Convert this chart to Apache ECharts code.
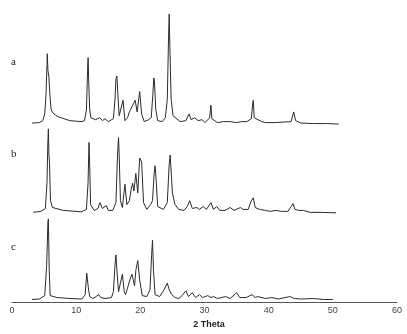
<!DOCTYPE html>
<html><head><meta charset="utf-8">
<script src="https://cdn.jsdelivr.net/npm/echarts@6/dist/echarts.min.js"></script>
<style>html,body{margin:0;padding:0;background:#fff}#c{width:407px;height:334px}</style>
</head><body><div id="c"></div>
<script>
// 2-theta ticks
const xTicks = [0, 10, 20, 30, 40, 50, 60];
const sampleNames = ['a', 'b', 'c'];
// Trace a
const thetaA = [3.1,4.3,4.8,5.1,5.3,5.45,5.5,5.6,5.75,5.9,6.1,6.5,7.2,9.0,10.9,11.3,11.6,11.78,11.86,11.95,12.1,12.3,13.0,13.7,14.1,14.5,15.0,15.8,16.05,16.2,16.35,16.5,16.7,17.0,17.3,17.6,18.0,18.3,18.6,18.9,19.2,19.5,19.9,20.2,20.6,21.3,21.7,21.95,22.1,22.2,22.4,22.7,23.4,23.9,24.2,24.4,24.5,24.6,24.8,25.1,26.2,27.1,27.6,27.9,28.5,29.0,29.6,30.1,30.8,31.0,31.15,32.0,33.0,34.0,35.0,35.8,36.6,37.3,37.5,37.6,37.75,38.9,39.5,41.0,43.5,43.7,43.9,44.0,44.2,45.0,47.0,49.0,50.9];
const intA   = [0.5,1,3,10,30,60,72,55,48,30,14,10,7,3,2,3,14,55,68,45,15,6,4,6,3,5,2,5,25,46,49,30,8,6,24,3,6,12,10,20,24,12,33,10,2,4,6,30,47,44,15,3,2,6,25,90,113,80,25,8,2,3,10,4,6,3,4,1,6,19,5,1,2,2,1,2,2,5,20,24,6,2,1,1,2,4,12,12,3,0.5,0,0,-0.5];
// Trace b
const thetaB = [3.3,4.5,5.2,5.45,5.6,5.67,5.75,5.85,6.0,6.3,6.6,8.0,10.8,11.6,11.85,12.0,12.1,12.25,12.8,13.4,13.7,14.1,14.4,14.7,15.0,15.7,16.2,16.45,16.6,16.7,16.9,17.2,17.6,17.9,18.3,18.6,18.8,19.0,19.3,19.6,19.9,20.2,20.5,21.0,21.6,21.9,22.15,22.3,22.45,22.7,23.6,24.2,24.5,24.65,24.85,25.0,25.4,26.0,26.8,27.3,27.7,28.1,28.8,29.2,29.8,30.3,31.0,31.4,31.9,32.4,33.2,34.0,34.6,35.6,36.0,36.8,37.3,37.6,37.9,38.6,39.5,40.3,41.0,42.0,43.0,43.5,43.8,44.1,44.7,45.4,46.5,48.0,50.5];
const intB   = [0,1,4,30,75,86,60,50,12,5,4,2,0.5,3,30,72,50,8,2,4,10,4,3,7,2,2,10,60,77,60,12,5,29,8,12,25,30,22,40,20,56,52,10,3,8,12,40,48,35,6,3,10,50,59,57,20,8,3,2,6,12,4,5,3,6,3,10,3,6,2,2,5,2,5,3,3,12,15,5,3,2,1,2,1,1,6,9,3,2,2,0,0,-0.5];
// Trace c
const thetaC = [3.1,4.3,5.1,5.4,5.6,5.67,5.8,5.95,7.0,9.0,10.9,11.4,11.65,11.75,11.9,12.1,12.6,13.1,13.5,13.8,14.1,14.5,15.5,15.8,16.05,16.2,16.35,16.6,16.8,17.2,17.5,17.7,18.1,18.4,18.7,18.9,19.1,19.3,19.6,19.9,20.3,21.0,21.5,21.75,21.9,22.05,22.3,23.0,23.7,24.2,24.5,24.9,25.4,26.0,26.5,27.1,27.5,28.1,28.6,29.2,29.7,30.5,31.0,31.4,32.0,33.3,34.0,35.0,35.5,36.5,37.4,37.9,38.3,39.5,40.5,41.5,43.3,44.0,45.0,47.0,48.5,50.0];
const intC   = [0,0.5,4,35,80,83,30,4,2,1,0.5,5,27,29,12,3,1,3,5,2,4,1,2,8,35,46,30,8,6,26,8,5,14,21,26,28,14,30,40,20,4,3,10,45,61,30,5,3,10,17,10,5,2,1,4,9,3,7,2,5,2,4,2,3,1,3,1,7,2,2,5,2,3,1,2,0.5,3,1,0.5,1,0,0];
// vertical stacking offsets of the traces
const offsets = [184, 92.5, 2.7];

const thetas = [thetaA, thetaB, thetaC];
const ints = [intA, intB, intC];

const chart = echarts.init(document.getElementById('c'), null, {renderer: 'canvas'});
const series = thetas.map((th, k) => ({
  type: 'line',
  data: th.map((t, i) => [t, ints[k][i] + offsets[k]]),
  showSymbol: false,
  symbol: 'none',
  smooth: false,
  lineStyle: {color: '#2a2a2a', width: 1},
  silent: true,
  animation: false
}));

const labelY = [66, 158, 251];
chart.setOption({
  animation: false,
  grid: {left: 12, right: 10, top: 11, bottom: 23},
  xAxis: {
    type: 'value', min: 0, max: 60, interval: 10,
    name: '2 Theta', nameLocation: 'middle', nameGap: 16,
    nameTextStyle: {fontFamily: 'Liberation Sans', fontSize: 9, fontWeight: 'bold', color: '#222', padding: [0, 0, 0, 9]},
    axisLine: {lineStyle: {color: '#555', width: 1}},
    axisTick: {show: false},
    splitLine: {show: false},
    axisLabel: {fontFamily: 'Liberation Sans', fontSize: 9, color: '#444', margin: 4,
      formatter: v => xTicks.includes(v) ? String(v) : ''}
  },
  yAxis: {type: 'value', min: 0, max: 300, show: false},
  graphic: sampleNames.map((n, k) => ({
    type: 'text', left: 11, top: labelY[k] - 9,
    style: {text: n, fontFamily: 'Liberation Serif', fontSize: 11, fill: '#222'}
  })),
  series: series
});
</script></body></html>
